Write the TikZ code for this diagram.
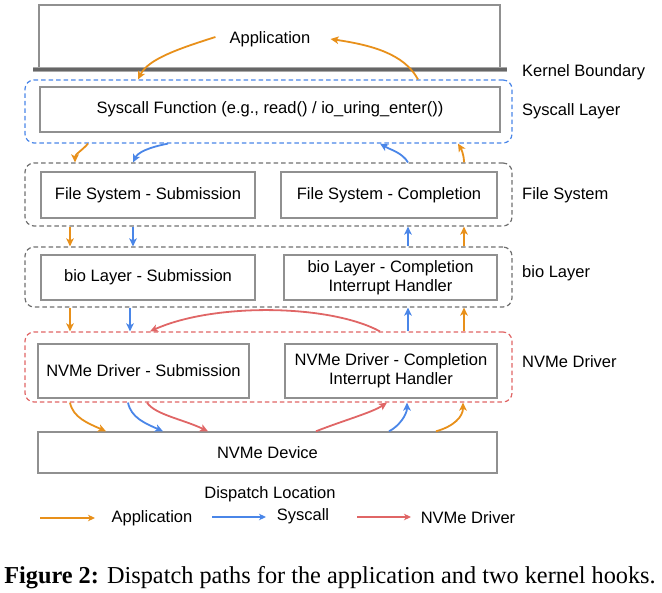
\documentclass[tikz,border=0pt]{standalone}
\usepackage{fontspec}
\setmainfont{Liberation Serif}
\newfontfamily\diagfont{Liberation Sans}
\usetikzlibrary{arrows.meta,calc}
\definecolor{cOr}{HTML}{E8901A}
\definecolor{cBl}{HTML}{4A86E8}
\definecolor{cRd}{HTML}{E06666}
\definecolor{cBox}{HTML}{909090}
\definecolor{cCont}{HTML}{707070}
\definecolor{cKB}{HTML}{666666}
\definecolor{cKBl}{HTML}{A8A8A8}
\begin{document}
\begin{tikzpicture}[x=1pt,y=-1pt,
 every node/.style={font=\diagfont\fontsize{16.5}{19}\selectfont},
 box/.style={draw=cBox,line width=1.4pt,inner sep=0pt,align=center},
 cont/.style={draw=#1,line width=1.2pt,dash pattern=on 4.5pt off 3pt,rounded corners=9pt,inner sep=0pt},
 lab/.style={anchor=west,inner sep=0pt},
 arr/.style={line width=1.8pt,-{Stealth[length=8pt,width=7.5pt,inset=2pt]}},
 legarr/.style={line width=1.5pt,-{Stealth[length=7pt,width=6.5pt,inset=2pt]}},
]
\useasboundingbox (0,0) rectangle (662,593);
\foreach \x in {70,75,88,106,128,130,133,138,147,150,163,168,208,316,380,387,389,407,408,418,436,458,463,464}
  \coordinate (c\x) at (\x,0);

% Application
\node[box,minimum width=461pt,minimum height=63pt] (app) at (269.5,36.5) {};
\node[inner sep=1pt] (apptxt) at (270,39) {Application};
\coordinate (kbL) at (33,70); \coordinate (kbR) at (507,70);
\draw[cKBl,line width=5pt] (kbL) -- (kbR);
\draw[cKB,line width=3pt] (kbL) -- (kbR);
\node[lab] (kbtxt) at (522,72) {Kernel Boundary};

% containers
\node[cont=cBl,minimum width=487pt,minimum height=63pt] (sysl) at (268.5,111.5) {};
\node[cont=cCont,minimum width=487pt,minimum height=63pt] (fsl) at (268.5,194.5) {};
\node[cont=cCont,minimum width=487pt,minimum height=60pt] (biol) at (268.5,277) {};
\node[cont=cRd,minimum width=487pt,minimum height=70pt] (nvl) at (268.5,367) {};

% boxes
\node[box,minimum width=460pt,minimum height=45pt] (sysf) at (270,109.5) {Syscall Function (e.g., read() / io\_uring\_enter())};
\node[box,minimum width=214pt,minimum height=46pt] (fss) at (148,195) {File System - Submission};
\node[box,minimum width=216pt,minimum height=46pt] (fsc) at (389,195) {File System - Completion};
\node[box,minimum width=214pt,minimum height=45pt] (bios) at (148,277.5) {bio Layer - Submission};
\node[box,minimum width=213pt,minimum height=45pt] (bioc) at (390.5,277.5) {bio Layer - Completion\\Interrupt Handler};
\node[box,minimum width=211pt,minimum height=54pt] (nvs) at (143.5,371) {NVMe Driver - Submission};
\node[box,minimum width=212pt,minimum height=54pt] (nvc) at (391,371) {NVMe Driver - Completion\\Interrupt Handler};
\node[box,minimum width=459pt,minimum height=41pt] (dev) at (267.5,452.5) {NVMe Device};

% layer labels
\node[lab] (syslab) at (522,111) {Syscall Layer};
\node[lab] (fslab) at (522,195) {File System};
\node[lab] (biolab) at (522,273) {bio Layer};
\node[lab] (nvlab) at (522,362) {NVMe Driver};

% app <-> syscall
\draw[arr,cOr] ([xshift=-13pt,yshift=2pt]apptxt.west) .. controls +(-38,12) and +(10,-20) .. (sysl.north -| c138);
\draw[arr,cOr] (sysl.north -| c418) .. controls +(-14,-26) and +(40,6) .. ([xshift=19pt]apptxt.east);

% syscall <-> fs
\draw[arr,cOr] (sysl.south -| c88) .. controls +(-5,6) and +(0,-8) .. (fsl.north -| c75);
\draw[arr,cBl] (sysl.south -| c168) .. controls +(-20,4) and +(5,-10) .. (fsl.north -| c133);
\draw[arr,cBl] (fsl.north -| c408) .. controls +(-6,-10) and +(10,6) .. (sysl.south -| c380);
\draw[arr,cOr] (fsl.north -| c464) .. controls +(0,-8) and +(3,5) .. (sysl.south -| c458);

% fs <-> bio
\draw[arr,cOr] (fsl.south -| c70) -- (biol.north -| c70);
\draw[arr,cBl] (fsl.south -| c133) -- (biol.north -| c133);
\draw[arr,cBl] (biol.north -| c408) -- (fsl.south -| c408);
\draw[arr,cOr] (biol.north -| c464) -- (fsl.south -| c464);

% bio <-> nvme
\draw[arr,cOr] (biol.south -| c70) -- (nvl.north -| c70);
\draw[arr,cBl] (biol.south -| c130) -- (nvl.north -| c130);
\draw[arr,cBl] (nvl.north -| c408) -- (biol.south -| c408);
\draw[arr,cOr] (nvl.north -| c464) -- (biol.south -| c464);
\draw[arr,cRd] (nvl.north -| c380) .. controls +(-50,-27) and +(65,-29) .. (nvl.north -| c150);

% nvme <-> device
\draw[arr,cOr] (nvl.south -| c70) .. controls +(3,15) and +(-18,-8) .. (dev.north -| c106);
\draw[arr,cBl] (nvl.south -| c128) .. controls +(3,15) and +(-18,-8) .. (dev.north -| c163);
\draw[arr,cRd] (nvl.south -| c147) .. controls +(8,12) and +(-25,-12) .. (dev.north -| c208);
\draw[arr,cRd] (dev.north -| c316) .. controls +(25,-10) and +(-15,10) .. (nvl.south -| c387);
\draw[arr,cBl] (dev.north -| c389) .. controls +(10,-5) and +(0,12) .. (nvl.south -| c407);
\draw[arr,cOr] (dev.north -| c436) .. controls +(18,-5) and +(0,14) .. (nvl.south -| c463);

% legend
\coordinate (lo1) at (40,518); \coordinate (lo2) at (95,518);
\coordinate (lb1) at (212,517); \coordinate (lb2) at (266,517);
\coordinate (lr1) at (357,517); \coordinate (lr2) at (411,517);
\draw[legarr,cOr] (lo1) -- (lo2);
\draw[legarr,cBl] (lb1) -- (lb2);
\draw[legarr,cRd] (lr1) -- (lr2);
\node (lgapp) at (152,518) {Application};
\node (lgtitle) at (270,494) {Dispatch Location};
\node (lgsys) at (303,516) {Syscall};
\node (lgnv) at (468,518) {NVMe Driver};

% caption
\node[font=\fontsize{24.3}{28}\selectfont] (cap) at (330,578) {\textbf{Figure 2:} Dispatch paths for the application and two kernel hooks.};
\end{tikzpicture}
\end{document}
